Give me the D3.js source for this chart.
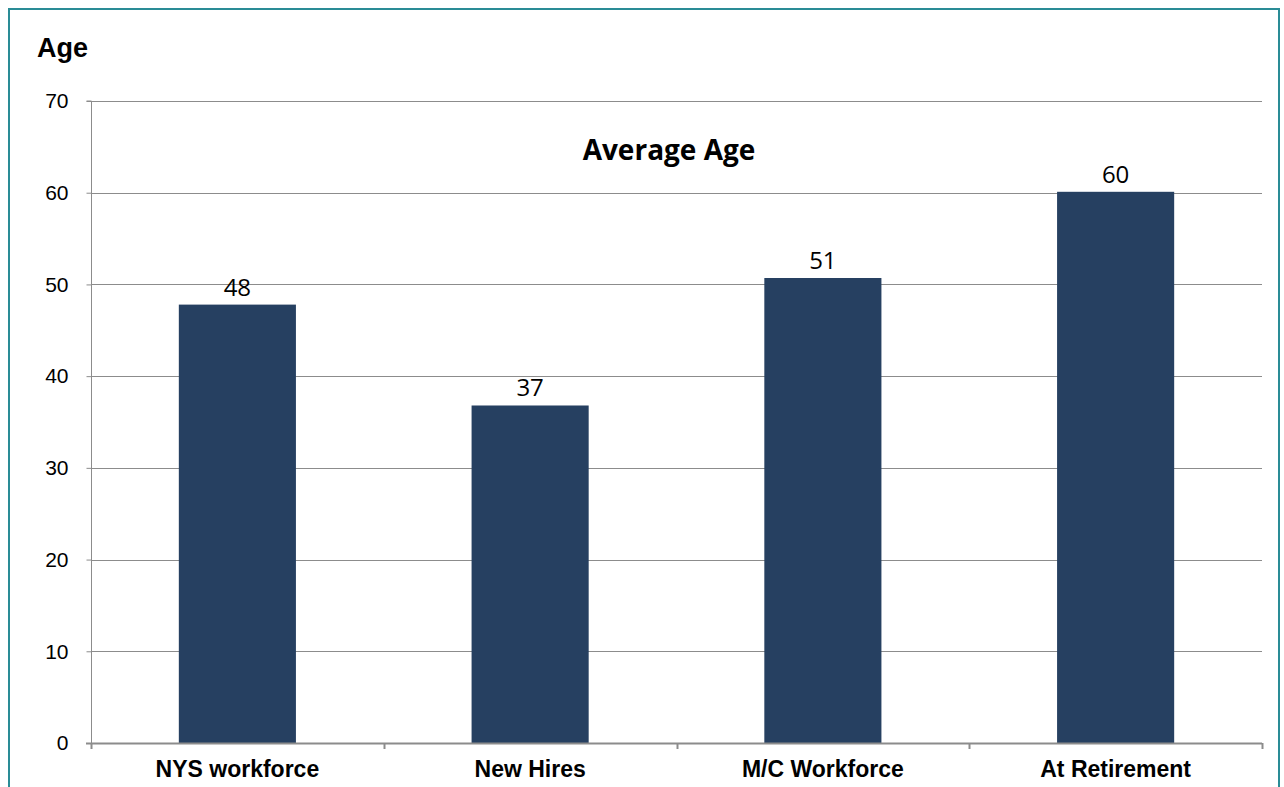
<!DOCTYPE html>
<html>
<head>
<meta charset="utf-8">
<script src="https://cdn.jsdelivr.net/npm/d3@7"></script>
<style>
  body { margin: 0; background: #fff; }
  svg { display: block; }
</style>
</head>
<body>
<div id="chart"></div>
<script>
// chart values
var categories = ["NYS workforce", "New Hires", "M/C Workforce", "At Retirement"];
var avgAge = [47.8, 36.8, 50.7, 60.1];
var ageLabels = ["48", "37", "51", "60"];
var yTicks = [0, 10, 20, 30, 40, 50, 60, 70];

var width = 1284, height = 787;
var margin = {top: 101, right: 22, bottom: 44, left: 91};
var barColor = '#264061';
var gridColor = '#8c8c8c';

var svg = d3.select("#chart").append("svg")
  .attr("width", width)
  .attr("height", height);

// outer frame
svg.append("rect")
  .attr("x", 9).attr("y", 9)
  .attr("width", 1270).attr("height", 800)
  .attr("fill", "none")
  .attr("stroke", "#2a8c96")
  .attr("stroke-width", 2);

var x = d3.scaleBand()
  .domain(categories)
  .range([margin.left, width - margin.right])
  .paddingInner(0.6)
  .paddingOuter(0.3);

var y = d3.scaleLinear()
  .domain([0, 70])
  .range([height - margin.bottom, margin.top]);

// grid lines
svg.append("g")
  .selectAll("line")
  .data(yTicks.filter(d => d > 0))
  .enter().append("line")
  .attr("x1", margin.left)
  .attr("x2", width - margin.right)
  .attr("y1", d => Math.round(y(d)) + 0.5)
  .attr("y2", d => Math.round(y(d)) + 0.5)
  .attr("stroke", gridColor)
  .attr("stroke-width", 1);

// bars
svg.append("g")
  .selectAll("rect")
  .data(avgAge)
  .enter().append("rect")
  .attr("x", (d, i) => x(categories[i]))
  .attr("y", d => y(d))
  .attr("width", x.bandwidth())
  .attr("height", d => y(0) - y(d))
  .attr("fill", barColor);

// value labels
svg.append("g")
  .selectAll("text")
  .data(avgAge)
  .enter().append("text")
  .attr("x", (d, i) => x(categories[i]) + x.bandwidth() / 2)
  .attr("y", d => y(d) - 9)
  .attr("text-anchor", "middle")
  .attr("font-family", "'Open Sans', 'Noto Sans', sans-serif")
  .attr("font-size", 24)
  .attr("fill", "#000")
  .text((d, i) => ageLabels[i]);

// y axis
var yAxis = d3.axisLeft(y)
  .tickValues(yTicks)
  .tickSize(5)
  .tickPadding(18);
var gy = svg.append("g")
  .attr("transform", "translate(" + (margin.left + 0.5) + ",0)")
  .call(yAxis);
gy.select(".domain").attr("stroke", gridColor).attr("d", "M-5," + y(70) + "H0V" + y(0));
gy.selectAll(".tick line").attr("stroke", gridColor);
gy.selectAll(".tick text")
  .attr("font-family", "'Liberation Sans', Arial, sans-serif")
  .attr("font-size", 21)
  .attr("fill", "#000");

// x axis
var xBounds = d3.range(categories.length + 1).map(i => margin.left + i * (width - margin.left - margin.right) / categories.length);
var gx = svg.append("g");
gx.append("line")
  .attr("x1", margin.left - 5)
  .attr("x2", width - margin.right)
  .attr("y1", Math.round(y(0)) + 0.5)
  .attr("y2", Math.round(y(0)) + 0.5)
  .attr("stroke", gridColor)
  .attr("stroke-width", 2);
gx.selectAll(".xtick")
  .data(xBounds)
  .enter().append("line")
  .attr("class", "xtick")
  .attr("x1", d => Math.round(d) + 0.5)
  .attr("x2", d => Math.round(d) + 0.5)
  .attr("y1", y(0))
  .attr("y2", y(0) + 6)
  .attr("stroke", gridColor)
  .attr("stroke-width", 2);
gx.selectAll("text")
  .data(categories)
  .enter().append("text")
  .attr("x", d => x(d) + x.bandwidth() / 2)
  .attr("y", y(0) + 34)
  .attr("text-anchor", "middle")
  .attr("font-family", "'Liberation Sans', Arial, sans-serif")
  .attr("font-weight", "bold")
  .attr("font-size", 23)
  .attr("fill", "#000")
  .text(d => d);

// titles
svg.append("text")
  .attr("x", 669)
  .attr("y", 160)
  .attr("text-anchor", "middle")
  .attr("font-family", "'Open Sans', 'Noto Sans', sans-serif")
  .attr("font-weight", "bold")
  .attr("font-size", 28)
  .attr("fill", "#000")
  .text("Average Age");

svg.append("text")
  .attr("x", 37)
  .attr("y", 57)
  .attr("font-family", "'Liberation Sans', Arial, sans-serif")
  .attr("font-weight", "bold")
  .attr("font-size", 27)
  .attr("fill", "#000")
  .text("Age");
</script>
</body>
</html>
